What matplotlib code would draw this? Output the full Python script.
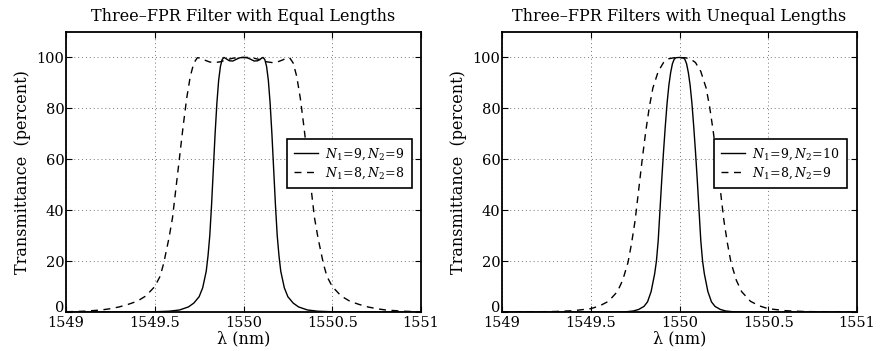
import matplotlib
matplotlib.use("Agg")
import matplotlib.pyplot as plt
from matplotlib.transforms import ScaledTranslation

plt.rcParams['font.family'] = ['DejaVu Serif']
plt.rcParams['mathtext.fontset'] = 'dejavuserif'

# ---- Data ----
# Left panel: equal lengths
eq_x_solid = [1549.0, 1549.4, 1549.5, 1549.58, 1549.64, 1549.69, 1549.72, 1549.75, 1549.77,
              1549.79, 1549.8, 1549.81, 1549.82, 1549.83, 1549.84, 1549.85, 1549.86, 1549.87,
              1549.88, 1549.89, 1549.9, 1549.92, 1549.94, 1549.96, 1549.98, 1550.0,
              1550.02, 1550.04, 1550.06, 1550.08, 1550.1, 1550.11, 1550.12, 1550.13,
              1550.14, 1550.15, 1550.16, 1550.17, 1550.18, 1550.19, 1550.2, 1550.21,
              1550.23, 1550.25, 1550.28, 1550.31, 1550.36, 1550.42, 1550.5, 1550.6, 1551.0]
eq_y_solid = [0.0, 0.0, 0.1, 0.3, 0.8, 2.0, 3.5, 6.0, 9.5,
              16.0, 22.0, 30.0, 42.0, 56.0, 70.0, 82.0, 91.0, 96.5,
              99.2, 100.0, 99.6, 98.7, 98.6, 99.3, 99.9, 100.0,
              99.9, 99.3, 98.6, 98.7, 99.6, 100.0, 99.2, 96.5,
              91.0, 82.0, 70.0, 56.0, 42.0, 30.0, 22.0, 16.0,
              9.5, 6.0, 3.5, 2.0, 0.8, 0.3, 0.1, 0.0, 0.0]

eq_x_dash = [1549.0, 1549.1, 1549.2, 1549.25, 1549.3, 1549.35, 1549.4, 1549.45, 1549.5,
             1549.53, 1549.55, 1549.58, 1549.6, 1549.62, 1549.64, 1549.66, 1549.68, 1549.7,
             1549.72, 1549.74, 1549.76, 1549.78, 1549.81, 1549.84, 1549.87, 1549.9, 1549.94,
             1549.97, 1550.0, 1550.03, 1550.06, 1550.1, 1550.13, 1550.16, 1550.19, 1550.22,
             1550.24, 1550.26, 1550.28, 1550.3, 1550.32, 1550.34, 1550.36, 1550.38, 1550.4,
             1550.42, 1550.45, 1550.47, 1550.5, 1550.55, 1550.6, 1550.65, 1550.7, 1550.75,
             1550.8, 1550.9, 1551.0]
eq_y_dash = [0.1, 0.3, 0.8, 1.3, 2.0, 3.0, 4.2, 6.3, 10.0,
             14.0, 19.0, 29.0, 37.0, 49.0, 61.0, 73.0, 84.0, 92.5,
             97.8, 99.9, 99.7, 99.0, 98.2, 98.0, 98.3, 99.0, 99.7,
             100.0, 100.0, 100.0, 99.7, 99.0, 98.3, 98.0, 98.2, 99.0,
             99.7, 99.9, 97.8, 92.5, 84.0, 73.0, 61.0, 49.0, 37.0,
             29.0, 19.0, 14.0, 10.0, 6.3, 4.2, 3.0, 2.0, 1.3,
             0.8, 0.3, 0.1]

# Right panel: unequal lengths
un_x_solid = [1549.0, 1549.6, 1549.7, 1549.74, 1549.77, 1549.8, 1549.82, 1549.84, 1549.86,
              1549.87, 1549.88, 1549.89, 1549.9, 1549.91, 1549.92, 1549.93, 1549.94, 1549.95,
              1549.96, 1549.97, 1549.98, 1550.0, 1550.02, 1550.03, 1550.04, 1550.05, 1550.06,
              1550.07, 1550.08, 1550.09, 1550.1, 1550.11, 1550.12, 1550.13, 1550.14, 1550.16,
              1550.18, 1550.2, 1550.23, 1550.26, 1550.3, 1550.4, 1551.0]
un_y_solid = [0.0, 0.0, 0.1, 0.4, 1.0, 2.2, 4.0, 8.0, 15.0,
              20.0, 28.0, 40.0, 52.0, 63.0, 73.0, 82.0, 89.0, 94.0,
              97.5, 99.3, 99.9, 100.0, 99.9, 99.3, 97.5, 94.0, 89.0,
              82.0, 73.0, 63.0, 52.0, 40.0, 28.0, 20.0, 15.0, 8.0,
              4.0, 2.2, 1.0, 0.4, 0.1, 0.0, 0.0]

un_x_dash = [1549.0, 1549.2, 1549.3, 1549.4, 1549.5, 1549.55, 1549.6, 1549.65, 1549.68,
             1549.71, 1549.73, 1549.75, 1549.77, 1549.79, 1549.81, 1549.83, 1549.85, 1549.88,
             1549.91, 1549.94, 1549.97, 1550.0, 1550.03, 1550.06, 1550.09, 1550.12, 1550.15,
             1550.17, 1550.19, 1550.21, 1550.23, 1550.25, 1550.27, 1550.29, 1550.32, 1550.35,
             1550.4, 1550.45, 1550.5, 1550.6, 1550.7, 1550.8, 1551.0]
un_y_dash = [0.02, 0.08, 0.2, 0.5, 1.3, 2.4, 4.2, 8.0, 12.5,
             19.5, 27.0, 36.0, 48.0, 60.0, 71.0, 80.5, 88.0, 94.5,
             98.0, 99.5, 99.9, 99.8, 99.9, 99.5, 98.0, 94.5, 88.0,
             80.5, 71.0, 60.0, 48.0, 36.0, 27.0, 19.5, 12.5, 8.0,
             4.2, 2.4, 1.3, 0.5, 0.2, 0.08, 0.02]

x_ticks = [1549, 1549.5, 1550, 1550.5, 1551]
x_ticklabels = ['1549', '1549.5', '1550', '1550.5', '1551']
y_ticks = [0, 20, 40, 60, 80, 100]

titles = ['Three–FPR Filter with Equal Lengths', 'Three–FPR Filters with Unequal Lengths']
labels_left = [r'$N_1\!=\!9, N_2\!=\!9$', r'$N_1\!=\!8, N_2\!=\!8$']
labels_right = [r'$N_1\!=\!9, N_2\!=\!10$', r'$N_1\!=\!8, N_2\!=\!9$']

fig = plt.figure(figsize=(8.88, 3.51), dpi=100)
ax1 = fig.add_axes([66/888, 39/351, 355/888, 280/351])
ax2 = fig.add_axes([502/888, 39/351, 355/888, 280/351])

panels = [
    (ax1, eq_x_solid, eq_y_solid, eq_x_dash, eq_y_dash, titles[0], labels_left, 0.975),
    (ax2, un_x_solid, un_y_solid, un_x_dash, un_y_dash, titles[1], labels_right, 0.972),
]

for ax, xs, ys, xd, yd, title, labs, lx in panels:
    ax.plot(xs, ys, color='black', lw=1.0, ls='-', label=labs[0])
    ax.plot(xd, yd, color='black', lw=1.0, ls=(0, (5, 4)), label=labs[1])
    ax.set_xlim(1549, 1551)
    ax.set_ylim(0, 110)
    ax.set_xticks(x_ticks)
    ax.set_xticklabels(x_ticklabels)
    ax.set_yticks(y_ticks)
    ax.grid(True, ls=(0, (1, 3)), color='#777777', lw=0.7)
    ax.tick_params(direction='in', length=4, labelsize=10.5, top=True, right=True)
    ax.tick_params(axis='x', pad=3)
    ax.tick_params(axis='y', pad=1)
    # raise the "0" label slightly as in the reference
    ylab0 = ax.get_yticklabels()[0]
    ylab0.set_transform(ylab0.get_transform() + ScaledTranslation(0, 5/100, fig.dpi_scale_trans))
    for s in ax.spines.values():
        s.set_linewidth(1.3)
    ax.set_title(title, fontsize=11.5, pad=8)
    ax.set_xlabel('λ (nm)', fontsize=11.5, labelpad=0)
    ax.set_ylabel('Transmittance  (percent)', fontsize=11.5, labelpad=4)
    leg = ax.legend(loc='center right', bbox_to_anchor=(lx, 0.53), fontsize=9,
                    frameon=True, fancybox=False, edgecolor='black', framealpha=1,
                    handlelength=1.9, handletextpad=0.6, borderpad=0.55,
                    labelspacing=0.3, borderaxespad=0)
    leg.get_frame().set_linewidth(1.2)

fig.savefig('out.png', dpi=100)
